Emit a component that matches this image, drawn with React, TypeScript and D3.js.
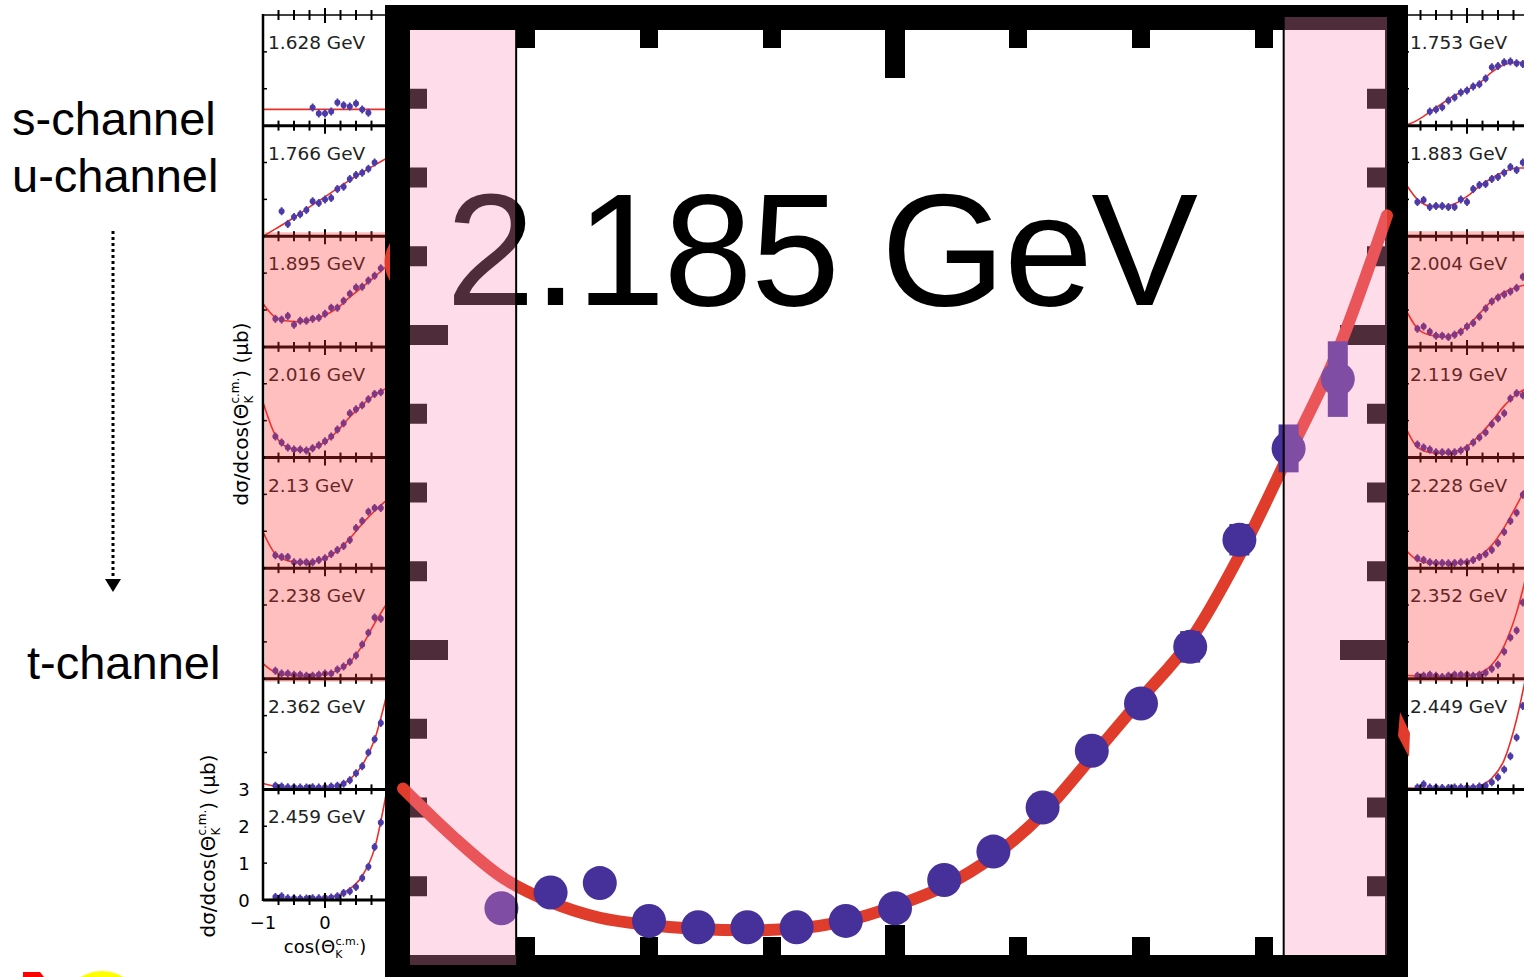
import React from 'react';
import * as d3 from 'd3';

const W = 1524;
const H = 977;
const FONT = 'Liberation Sans, Arial, sans-serif';
const SMALL_FONT = 'DejaVu Sans, Verdana, sans-serif';
const N = null;

// big panel: 2.185 GeV
const mainCos = [-0.8, -0.7, -0.6, -0.5, -0.4, -0.3, -0.2, -0.1, 0, 0.1, 0.2, 0.3, 0.4, 0.5, 0.6, 0.7, 0.8, 0.9];
const mainValues = [0.18, 0.23, 0.26, 0.14, 0.12, 0.12, 0.12, 0.14, 0.18, 0.27, 0.36, 0.5, 0.68, 0.83, 1.01, 1.35, 1.64, 1.86];
const mainErrors = [0.03, 0.03, 0.03, 0.03, 0.03, 0.03, 0.03, 0.03, 0.03, 0.03, 0.04, 0.04, 0.04, 0.04, 0.05, 0.05, 0.076, 0.12];
const mainCurveCos = [-1, -0.9, -0.8, -0.7, -0.6, -0.5, -0.4, -0.3, -0.2, -0.1, 0, 0.1, 0.2, 0.3, 0.4, 0.5, 0.6, 0.7, 0.8, 0.9, 1];
const mainCurve = [0.56, 0.41, 0.28, 0.2, 0.15, 0.127, 0.114, 0.11, 0.116, 0.14, 0.187, 0.25, 0.345, 0.48, 0.66, 0.845, 1.03, 1.3, 1.62, 1.95, 2.38];
const mainXMinor = [-0.75, -0.5, -0.25, 0.25, 0.5, 0.75];
const mainXMajor = [0];
const mainYMinor = [0.25, 0.5, 0.75, 1.25, 1.5, 1.75, 2.25, 2.5, 2.75];
const mainYMajor = [1, 2];
const mainBands = [[-1, -0.77], [0.79, 1]];

// small panels
const smallCos = [-0.8, -0.7, -0.6, -0.5, -0.4, -0.3, -0.2, -0.1, 0, 0.1, 0.2, 0.3, 0.4, 0.5, 0.6, 0.7, 0.8, 0.9];
const smallCurveCos = [-1, -0.8, -0.6, -0.4, -0.2, 0, 0.2, 0.4, 0.6, 0.8, 1];
const smallXTicks = [-0.75, -0.5, -0.25, 0.25, 0.5, 0.75];
const smallYTicks = [1, 2];
const yTickLabels = ['0', '1', '2', '3'];

const leftLabels = ['1.628 GeV', '1.766 GeV', '1.895 GeV', '2.016 GeV', '2.13 GeV', '2.238 GeV', '2.362 GeV', '2.459 GeV'];
const rightLabels = ['1.753 GeV', '1.883 GeV', '2.004 GeV', '2.119 GeV', '2.228 GeV', '2.352 GeV', '2.449 GeV'];

const L1628 = [N, N, N, N, N, N, 0.49, 0.33, 0.33, 0.38, 0.63, 0.55, 0.52, 0.6, 0.44, 0.35, N, N];
const L1766 = [N, 0.68, 0.33, 0.52, 0.6, 0.71, 0.95, 0.9, 1.0, 1.04, 1.28, 1.34, 1.55, 1.66, 1.72, 1.83, 2.0, N];
const L1895 = [0.76, 0.74, 0.84, 0.6, 0.71, 0.71, 0.76, 0.79, 0.9, 1.06, 1.06, 1.25, 1.44, 1.61, 1.63, 1.8, 1.93, 2.13];
const L2016 = [0.57, 0.41, 0.27, 0.22, 0.22, 0.19, 0.25, 0.33, 0.44, 0.57, 0.76, 0.93, 1.2, 1.31, 1.42, 1.58, 1.72, 1.77];
const L2130 = [0.35, 0.3, 0.3, 0.16, 0.16, 0.16, 0.16, 0.22, 0.27, 0.38, 0.49, 0.6, 0.76, 1.09, 1.28, 1.53, 1.63, 1.63];
const L2238 = [0.22, 0.14, 0.14, 0.11, 0.11, 0.08, 0.08, 0.11, 0.14, 0.14, 0.25, 0.33, 0.46, 0.63, 0.93, 1.25, 1.66, 1.63];
const L2362 = [0.1, 0.08, 0.06, 0.06, 0.05, 0.05, 0.06, 0.05, 0.06, 0.08, 0.1, 0.15, 0.25, 0.44, 0.63, 1.0, 1.36, 1.8];
const L2459 = [0.08, 0.1, 0.05, 0.05, 0.04, 0.04, 0.05, 0.05, 0.06, 0.07, 0.1, 0.19, 0.24, 0.35, 0.6, 0.9, 1.44, 2.1];

const L1628fit = [0.44, 0.44, 0.44, 0.44, 0.44, 0.44, 0.44, 0.44, 0.44, 0.44, 0.44];
const L1766fit = [0, 0.2, 0.4, 0.62, 0.85, 1.07, 1.3, 1.52, 1.73, 1.93, 2.12];
const L1895fit = [1.17, 0.8, 0.7, 0.68, 0.74, 0.86, 1.05, 1.35, 1.62, 1.9, 2.2];
const L2016fit = [1.5, 0.6, 0.27, 0.2, 0.25, 0.42, 0.72, 1.1, 1.42, 1.7, 1.88];
const L2130fit = [0.98, 0.38, 0.2, 0.15, 0.17, 0.27, 0.47, 0.8, 1.2, 1.55, 1.85];
const L2238fit = [0.41, 0.17, 0.1, 0.08, 0.09, 0.12, 0.22, 0.45, 0.9, 1.5, 2.05];
const L2362fit = [0.16, 0.08, 0.05, 0.04, 0.04, 0.05, 0.1, 0.27, 0.65, 1.35, 2.6];
const L2459fit = [0, 0.02, 0.03, 0.03, 0.04, 0.06, 0.12, 0.3, 0.65, 1.4, 3.0];

const R1753 = [N, N, 0.38, 0.44, 0.5, 0.68, 0.76, 0.9, 0.95, 1.06, 1.12, 1.28, 1.58, 1.62, 1.72, 1.74, 1.69, 1.67];
const R1883 = [0.93, 0.98, 0.79, 0.82, 0.82, 0.79, 0.79, 1.0, 0.93, 1.28, 1.39, 1.42, 1.55, 1.61, 1.72, 1.88, 1.8, 2.0];
const R2004 = [0.49, 0.55, 0.41, 0.3, 0.3, 0.27, 0.33, 0.41, 0.55, 0.65, 0.82, 1.04, 1.23, 1.34, 1.42, 1.5, 1.6, 1.9];
const R2119 = [0.35, 0.27, 0.22, 0.14, 0.14, 0.14, 0.14, 0.19, 0.25, 0.41, 0.54, 0.68, 0.9, 1.06, 1.2, 1.6, 1.74, 1.69];
const R2228 = [0.27, 0.22, 0.16, 0.14, 0.14, 0.13, 0.14, 0.16, 0.16, 0.22, 0.3, 0.38, 0.49, 0.68, 0.98, 1.28, 1.5, 1.99];
const R2352 = [0.08, 0.08, 0.11, 0.08, 0.05, 0.08, 0.11, 0.11, 0.11, 0.08, 0.11, 0.16, 0.27, 0.38, 0.74, 1.12, 1.31, 2.07];
const R2449 = [0.05, 0.14, 0.05, 0.05, 0.04, 0.04, 0.05, 0.05, 0.05, 0.05, 0.08, 0.1, 0.19, 0.33, 0.54, 0.9, 1.41, 2.26];

const R1753fit = [0, 0.15, 0.37, 0.6, 0.82, 0.97, 1.15, 1.45, 1.65, 1.72, 1.68];
const R1883fit = [1.45, 1.0, 0.82, 0.8, 0.88, 1.08, 1.35, 1.58, 1.75, 1.85, 1.85];
const R2004fit = [1.05, 0.5, 0.32, 0.27, 0.35, 0.55, 0.9, 1.25, 1.48, 1.62, 1.7];
const R2119fit = [0.85, 0.28, 0.14, 0.12, 0.16, 0.3, 0.6, 0.98, 1.4, 1.72, 1.9];
const R2228fit = [0.52, 0.22, 0.14, 0.13, 0.14, 0.18, 0.32, 0.62, 1.1, 1.7, 2.35];
const R2352fit = [0.1, 0.07, 0.06, 0.06, 0.07, 0.08, 0.15, 0.38, 0.9, 1.8, 3.1];
const R2449fit = [0.04, 0.03, 0.03, 0.03, 0.04, 0.05, 0.1, 0.3, 0.8, 1.9, 3.5];

const leftPoints = [L1628, L1766, L1895, L2016, L2130, L2238, L2362, L2459];
const leftFits = [L1628fit, L1766fit, L1895fit, L2016fit, L2130fit, L2238fit, L2362fit, L2459fit];
const rightPoints = [R1753, R1883, R2004, R2119, R2228, R2352, R2449];
const rightFits = [R1753fit, R1883fit, R2004fit, R2119fit, R2228fit, R2352fit, R2449fit];
const pinkRows = [2, 3, 4, 5];

const rowTop = d3.scaleLinear().domain([0, 8]).range([15, 900]);

function SmallPanel({ side, row, label, values, fit }) {
  const top = rowTop(row);
  const bottom = rowTop(row + 1);
  const x0 = side === 'left' ? 263 : 1405;
  const xs = d3.scaleLinear().domain([-1, 1]).range([x0, x0 + 124]);
  const ys = d3.scaleLinear().domain([0, 3]).range([bottom, top]);
  const line = d3.line<number>()
    .x((_, i) => xs(smallCurveCos[i]))
    .y(d => ys(d))
    .curve(d3.curveMonotoneX);
  const clipId = `clip-${side}-${row}`;
  return (
    <g>
      <clipPath id={clipId}>
        <rect x={x0} y={top} width={124} height={bottom - top} />
      </clipPath>
      <g clipPath={`url(#${clipId})`}>
        <path d={line(fit) || ''} fill="none" stroke="#e8302a" strokeWidth={1.6} />
        {values.map((v, i) => v === null ? null : (
          <g key={i}>
            <line x1={xs(smallCos[i])} x2={xs(smallCos[i])} y1={ys(v) - 4} y2={ys(v) + 4} stroke="#4b3aa8" strokeWidth={1.8} />
            <circle cx={xs(smallCos[i])} cy={ys(v)} r={3} fill="#4b3aa8" />
          </g>
        ))}
      </g>
      {smallYTicks.map(t => (
        <line key={t} x1={x0} x2={x0 + 4} y1={ys(t)} y2={ys(t)} stroke="#000" strokeWidth={1.5} />
      ))}
      <text x={x0 + 5} y={top + 34} fontFamily={SMALL_FONT} fontSize={18.5} fill="#222">{label}</text>
    </g>
  );
}

function Separator({ side, yPos, width }) {
  const x0 = side === 'left' ? 263 : 1405;
  const xs = d3.scaleLinear().domain([-1, 1]).range([x0, x0 + 124]);
  return (
    <g>
      <line x1={x0} x2={x0 + 124} y1={yPos} y2={yPos} stroke="#000" strokeWidth={width} />
      {smallXTicks.map(t => (
        <line key={t} x1={xs(t)} x2={xs(t)} y1={yPos - 5} y2={yPos + 5} stroke="#000" strokeWidth={2} />
      ))}
      <line x1={xs(0)} x2={xs(0)} y1={yPos - 7} y2={yPos + 8} stroke="#000" strokeWidth={2} />
    </g>
  );
}

function YLabel({ transform }) {
  return (
    <text transform={transform} fontFamily={SMALL_FONT} fontSize={20} textAnchor="middle" fill="#000">
      dσ/dcos(Θ<tspan fontSize={12} dy={5}>K</tspan><tspan fontSize={12} dx={-8} dy={-14}>c.m.</tspan><tspan dy={9}>) (μb)</tspan>
    </text>
  );
}

export default function App() {
  const x = d3.scaleLinear().domain([-1, 1]).range([403, 1387]);
  const y = d3.scaleLinear().domain([0, 3]).range([965, 20]);
  const mainLine = d3.line<number>()
    .x((_, i) => x(mainCurveCos[i]))
    .y(d => y(d))
    .curve(d3.curveMonotoneX);

  const leftSeps = d3.range(0, 9);
  const rightSeps = d3.range(0, 8);
  const yl = d3.scaleLinear().domain([0, 3]).range([rowTop(8), rowTop(7)]);
  const xl = d3.scaleLinear().domain([-1, 1]).range([263, 387]);

  return (
    <svg width={W} height={H} style={{ position: 'absolute', left: 0, top: 0, background: '#fff' }}>
      <rect x={0} y={0} width={W} height={H} fill="#fff" />

      {/* left side labels */}
      <text x={12} y={135} fontFamily={FONT} fontSize={47} fill="#000">s-channel</text>
      <text x={12} y={192} fontFamily={FONT} fontSize={47} fill="#000">u-channel</text>
      <text x={27} y={679} fontFamily={FONT} fontSize={47} fill="#000">t-channel</text>
      <line x1={113} x2={113} y1={231} y2={580} stroke="#000" strokeWidth={3} strokeDasharray="3 3" />
      <path d="M105,579 L121,579 L113,592 Z" fill="#000" />

      {/* small panels, left column */}
      {leftLabels.map((lab, i) => (
        <SmallPanel key={lab} side="left" row={i} label={lab} values={leftPoints[i]} fit={leftFits[i]} />
      ))}
      {leftSeps.map(i => (
        <Separator key={i} side="left" yPos={rowTop(i)} width={i === 0 ? 1.5 : 3} />
      ))}
      <line x1={263} x2={263} y1={14} y2={901} stroke="#000" strokeWidth={2.5} />

      {/* small panels, right column */}
      {rightLabels.map((lab, i) => (
        <SmallPanel key={lab} side="right" row={i} label={lab} values={rightPoints[i]} fit={rightFits[i]} />
      ))}
      {rightSeps.map(i => (
        <Separator key={i} side="right" yPos={rowTop(i)} width={i === 0 ? 1.5 : 3} />
      ))}

      {/* pink highlight on t-channel rows */}
      <rect x={265} y={rowTop(pinkRows[0]) - 4} width={122} height={rowTop(pinkRows[3] + 1) - rowTop(pinkRows[0]) + 7} fill="rgb(255,50,50)" opacity={0.31} />
      <rect x={1408} y={rowTop(pinkRows[0]) - 5} width={120} height={rowTop(pinkRows[3] + 1) - rowTop(pinkRows[0]) + 8} fill="rgb(255,50,50)" opacity={0.31} />

      {/* axis labels of small panels */}
      {yTickLabels.map((t, i) => (
        <text key={t} x={244} y={yl(i) + 7} fontFamily={SMALL_FONT} fontSize={18} textAnchor="middle" fill="#000">{t}</text>
      ))}
      <text x={xl(-1)} y={929} fontFamily={SMALL_FONT} fontSize={18} textAnchor="middle" fill="#000">−1</text>
      <text x={xl(0)} y={929} fontFamily={SMALL_FONT} fontSize={18} textAnchor="middle" fill="#000">0</text>
      <text x={325} y={953} fontFamily={SMALL_FONT} fontSize={18} textAnchor="middle" fill="#000">
        cos(Θ<tspan fontSize={11} dy={5}>K</tspan><tspan fontSize={11} dx={-7} dy={-13}>c.m.</tspan><tspan dy={8}>)</tspan>
      </text>
      <YLabel transform="translate(248,414) rotate(-90)" />
      <YLabel transform="translate(215,846) rotate(-90)" />

      {/* big frame */}
      <rect x={385} y={5} width={1023} height={990} fill="#000" />
      <rect x={410} y={30} width={975} height={925} fill="#fff" />
      {mainXMinor.map(t => (
        <g key={t}>
          <rect x={x(t) - 9} y={30} width={18} height={18} fill="#000" />
          <rect x={x(t) - 9} y={937} width={18} height={18} fill="#000" />
        </g>
      ))}
      {mainXMajor.map(t => (
        <g key={t}>
          <rect x={x(t) - 10} y={30} width={20} height={48} fill="#000" />
          <rect x={x(t) - 10} y={925} width={20} height={30} fill="#000" />
        </g>
      ))}
      {mainYMinor.map(t => (
        <g key={t}>
          <rect x={410} y={y(t) - 10} width={17} height={20} fill="#000" />
          <rect x={1367} y={y(t) - 10} width={18} height={20} fill="#000" />
        </g>
      ))}
      {mainYMajor.map(t => (
        <g key={t}>
          <rect x={410} y={y(t) - 10} width={38} height={20} fill="#000" />
          <rect x={1340} y={y(t) - 10} width={45} height={20} fill="#000" />
        </g>
      ))}

      <text x={446} y={305} fontFamily={FONT} fontSize={160} fill="#000" textLength={752} lengthAdjust="spacing">2.185 GeV</text>

      {/* fit curve and data */}
      <path d={mainLine(mainCurve) || ''} fill="none" stroke="#e03c2c" strokeWidth={12} strokeLinejoin="round" strokeLinecap="round" />
      {mainCos.map((c, i) => (
        <rect key={`e${i}`} x={x(c) - 10} y={y(mainValues[i] + mainErrors[i])} width={20}
          height={y(mainValues[i] - mainErrors[i]) - y(mainValues[i] + mainErrors[i])} fill="#46309a" />
      ))}
      {mainCos.map((c, i) => (
        <circle key={`p${i}`} cx={x(c)} cy={y(mainValues[i])} r={17} fill="#46309a" />
      ))}

      {/* excluded angular bands */}
      <rect x={410} y={30} width={x(mainBands[0][1]) - 410} height={935} fill="rgb(255,142,187)" opacity={0.31} />
      <line x1={x(mainBands[0][1])} x2={x(mainBands[0][1])} y1={30} y2={955} stroke="#000" strokeWidth={2} />
      <rect x={x(mainBands[1][0])} y={17} width={x(mainBands[1][1]) - x(mainBands[1][0])} height={938} fill="rgb(255,142,187)" opacity={0.31} />
      <line x1={x(mainBands[1][0])} x2={x(mainBands[1][0])} y1={17} y2={955} stroke="#000" strokeWidth={2} />

      {/* stray slide decorations */}
      <path d="M390,243 Q379,262 390,281 Z" fill="#e23b2b" />
      <path d="M1400,712 L1410,733 L1409,757 L1398,736 Z" fill="#e23b2b" />
      <path d="M23,972 L40,972 L44,977 L23,977 Z" fill="#ff0000" />
      <ellipse cx={102} cy={1000} rx={35} ry={29} fill="#ffff00" />
    </svg>
  );
}
